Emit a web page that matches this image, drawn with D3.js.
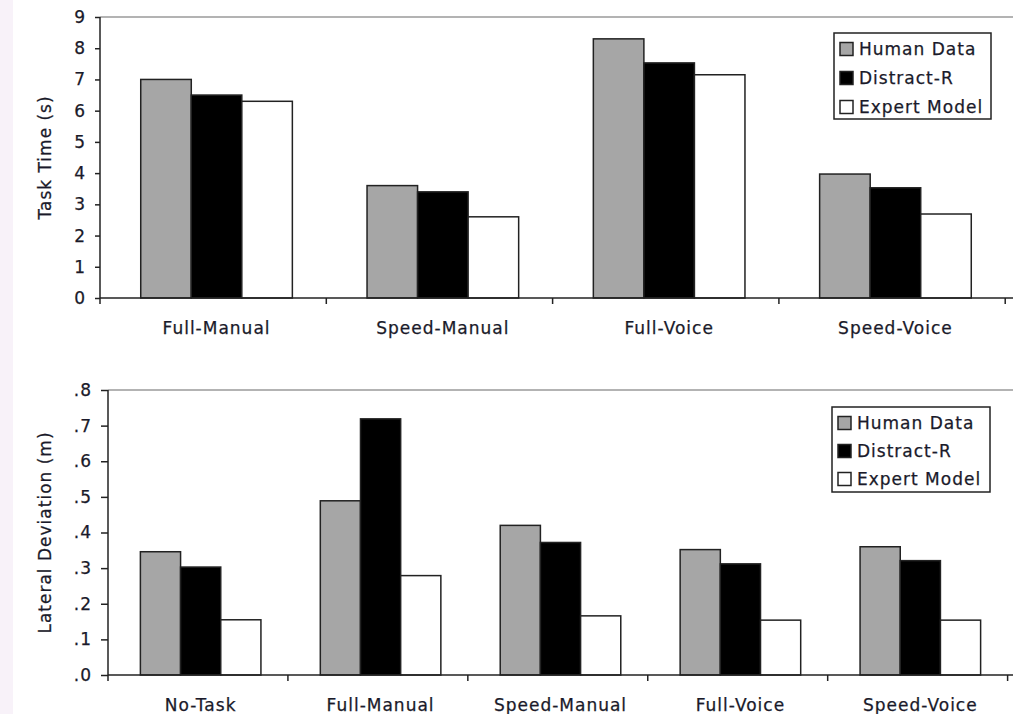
<!DOCTYPE html>
<html>
<head>
<meta charset="utf-8">
<script src="https://cdn.jsdelivr.net/npm/d3@7"></script>
<style>
  html, body { margin: 0; padding: 0; background: #fff; }
  svg { display: block; }
  text { font-family: "DejaVu Sans", Verdana, sans-serif; fill: #1a1a2a; letter-spacing: 1px; stroke: #1a1a2a; stroke-width: 0.25px; }
</style>
</head>
<body>
<div id="chart"></div>
<script>
// Task time and lateral deviation — human data vs. Distract-R vs. expert model
const seriesNames = ["Human Data", "Distract-R", "Expert Model"];
const seriesColors = ["#a6a6a6", "#000000", "#ffffff"];

const timeCategories = ["Full-Manual", "Speed-Manual", "Full-Voice", "Speed-Voice"];
const timeHuman    = [7.0, 3.6, 8.3, 3.97];
const timeDistract = [6.5, 3.4, 7.53, 3.53];
const timeExpert   = [6.3, 2.6, 7.15, 2.69];
const timeTicks = [0, 1, 2, 3, 4, 5, 6, 7, 8, 9];

const devCategories = ["No-Task", "Full-Manual", "Speed-Manual", "Full-Voice", "Speed-Voice"];
const devHuman    = [0.346, 0.489, 0.42, 0.352, 0.36];
const devDistract = [0.303, 0.719, 0.372, 0.312, 0.321];
const devExpert   = [0.155, 0.279, 0.166, 0.154, 0.154];
const devTicks = [0, 0.1, 0.2, 0.3, 0.4, 0.5, 0.6, 0.7, 0.8];

(function(){
  const width = 1013, height = 714;
  const svg = d3.select("#chart").append("svg")
    .attr("width", width)
    .attr("height", height);

  // faint strip on the left edge of the scan
  svg.append("rect")
    .attr("x", 0).attr("y", 0)
    .attr("width", 13).attr("height", height)
    .attr("fill", "#f8f2f9");

  function panel(opts) {
    const {cats, values, ticks, yMax, left, right, top, bottom, tickFmt, title, tickLen, legendBox} = opts;

    const x = d3.scaleBand()
      .domain(cats)
      .range([left, right])
      .paddingInner(0.33)
      .paddingOuter(0.18);

    const xs = d3.scaleBand()
      .domain(seriesNames)
      .range([0, x.bandwidth()]);

    const y = d3.scaleLinear()
      .domain([0, yMax])
      .range([bottom, top]);

    const g = svg.append("g");

    // top border of plot area
    g.append("line")
      .attr("x1", left).attr("x2", width)
      .attr("y1", top).attr("y2", top)
      .attr("stroke", "#9a9a9a")
      .attr("stroke-width", 1.5);

    // bars
    const rows = cats.map((c, i) => ({cat: c, vals: values.map(v => v[i])}));
    const grp = g.selectAll(".grp")
      .data(rows)
      .join("g")
      .attr("transform", d => `translate(${x(d.cat)},0)`);

    grp.selectAll("rect")
      .data(d => d.vals.map((v, k) => ({name: seriesNames[k], v, k})))
      .join("rect")
      .attr("x", d => xs(d.name))
      .attr("y", d => y(d.v))
      .attr("width", xs.bandwidth())
      .attr("height", d => bottom - y(d.v))
      .attr("fill", d => seriesColors[d.k])
      .attr("stroke", "#222")
      .attr("stroke-width", 1.5);

    // y axis
    const yAxis = g.append("g")
      .attr("transform", `translate(${left},0)`)
      .call(d3.axisLeft(y).tickValues(ticks).tickFormat(tickFmt).tickSize(tickLen).tickPadding(9));
    yAxis.select(".domain").attr("stroke", "#222").attr("stroke-width", 1.5)
      .attr("d", `M0,${top}V${bottom + 6}`);
    yAxis.selectAll(".tick line").attr("stroke", "#222").attr("stroke-width", 1.5);
    yAxis.selectAll(".tick text")
      .attr("fill", "#1a1a2a")
      .style("font-size", "17px")
      .style("font-family", "'DejaVu Sans', Verdana, sans-serif");

    // x axis line + category boundary ticks
    g.append("line")
      .attr("x1", left).attr("x2", width)
      .attr("y1", bottom).attr("y2", bottom)
      .attr("stroke", "#222").attr("stroke-width", 1.5);
    const bounds = d3.range(cats.length + 1).map(i => left + i * x.step());
    g.selectAll(".bt")
      .data(bounds.slice(1))
      .join("line")
      .attr("x1", d => d).attr("x2", d => d)
      .attr("y1", bottom).attr("y2", bottom + 6)
      .attr("stroke", "#222").attr("stroke-width", 1.5);

    // category labels
    g.selectAll(".cl")
      .data(cats)
      .join("text")
      .attr("x", d => x(d) + x.bandwidth() / 2)
      .attr("y", bottom + 36)
      .attr("text-anchor", "middle")
      .style("font-size", "17px")
      .text(d => d);

    // y title
    g.append("text")
      .attr("transform", `translate(51,${(top + bottom) / 2}) rotate(-90)`)
      .attr("text-anchor", "middle")
      .style("font-size", "17px")
      .text(title);

    // legend
    const lb = legendBox;
    const legend = g.append("g").attr("transform", `translate(${lb.x},${lb.y})`);
    legend.append("rect")
      .attr("width", lb.w).attr("height", lb.h)
      .attr("fill", "#fff")
      .attr("stroke", "#222").attr("stroke-width", 1.5);
    seriesNames.forEach((name, i) => {
      const cy = lb.rowTop + i * lb.rowGap;
      legend.append("rect")
        .attr("x", 6).attr("y", cy - 6.5)
        .attr("width", 13).attr("height", 13)
        .attr("fill", seriesColors[i])
        .attr("stroke", "#222").attr("stroke-width", 1.5);
      legend.append("text")
        .attr("x", 25).attr("y", cy + 6)
        .style("font-size", "17px")
        .text(name);
    });
  }

  panel({
    cats: timeCategories,
    values: [timeHuman, timeDistract, timeExpert],
    ticks: timeTicks, yMax: 9,
    left: 100, right: 1012, top: 17, bottom: 298,
    tickFmt: d3.format("d"), tickLen: 5,
    title: "Task Time (s)",
    legendBox: {x: 834, y: 33, w: 157, h: 86, rowTop: 16, rowGap: 29}
  });

  panel({
    cats: devCategories,
    values: [devHuman, devDistract, devExpert],
    ticks: devTicks, yMax: 0.8,
    left: 108, right: 1013, top: 390, bottom: 675,
    tickFmt: d => d3.format(".1f")(d).replace(/^0/, ""), tickLen: 7,
    title: "Lateral Deviation (m)",
    legendBox: {x: 832, y: 407, w: 158, h: 85, rowTop: 16, rowGap: 28}
  });
})();
</script>
</body>
</html>
